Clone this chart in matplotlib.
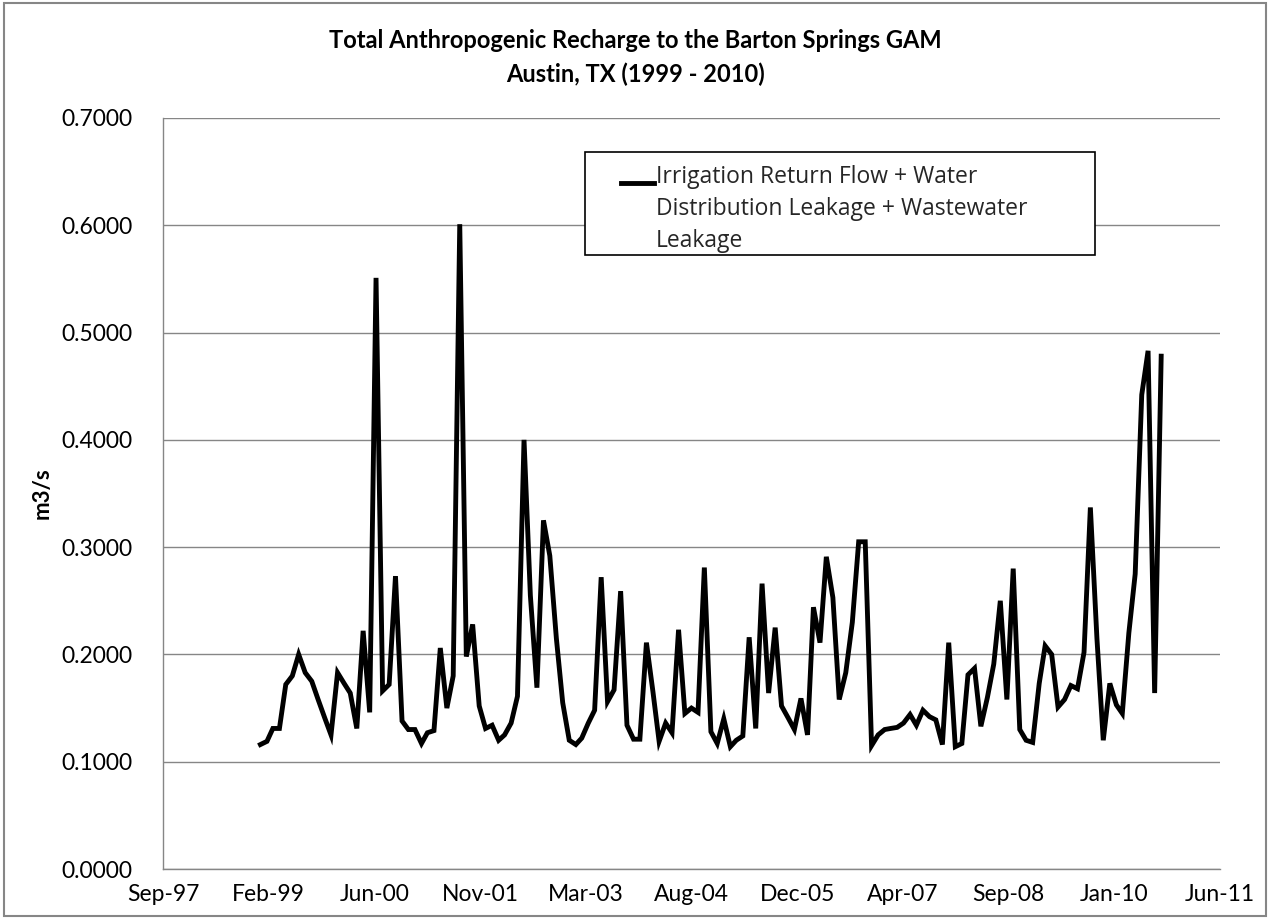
import numpy as np
import pandas as pd
import matplotlib
matplotlib.use('Agg')
import matplotlib.pyplot as plt
import matplotlib.dates as mdates
from matplotlib.patches import Rectangle

plt.rcParams['font.family'] = ['Lato', 'DejaVu Sans']

# --- データ (月次, 1999-01 〜 2010-09) ---
months = pd.date_range('1999-01-01', periods=141, freq='MS')
recharge = [
    0.116, 0.119, 0.131, 0.131, 0.172, 0.180, 0.200, 0.183, 0.175, 0.158, 0.141, 0.125,
    0.183, 0.173, 0.164, 0.131, 0.222, 0.146, 0.551, 0.166, 0.172, 0.273, 0.138, 0.130,
    0.130, 0.117, 0.127, 0.129, 0.206, 0.150, 0.180, 0.601, 0.198, 0.228, 0.152, 0.131,
    0.134, 0.120, 0.125, 0.136, 0.161, 0.400, 0.255, 0.169, 0.325, 0.292, 0.215, 0.155,
    0.120, 0.116, 0.122, 0.136, 0.148, 0.272, 0.156, 0.167, 0.259, 0.134, 0.121, 0.121,
    0.211, 0.165, 0.119, 0.136, 0.127, 0.223, 0.145, 0.150, 0.146, 0.281, 0.128, 0.117,
    0.140, 0.114, 0.120, 0.124, 0.216, 0.131, 0.266, 0.164, 0.225, 0.152, 0.141, 0.130,
    0.159, 0.125, 0.244, 0.211, 0.291, 0.253, 0.158, 0.183, 0.230, 0.305, 0.305, 0.115,
    0.125, 0.130, 0.131, 0.132, 0.136, 0.144, 0.134, 0.148, 0.142, 0.139, 0.116, 0.211,
    0.114, 0.117, 0.181, 0.187, 0.133, 0.160, 0.191, 0.250, 0.158, 0.280, 0.130, 0.120,
    0.118, 0.173, 0.208, 0.200, 0.151, 0.158, 0.171, 0.168, 0.202, 0.337, 0.215, 0.120,
    0.173, 0.153, 0.145, 0.220, 0.275, 0.442, 0.483, 0.164, 0.478,
]
series_label = "Irrigation Return Flow + Water\nDistribution Leakage + Wastewater\nLeakage"
title = "Total Anthropogenic Recharge to the Barton Springs GAM\nAustin, TX (1999 - 2010)"

# Excel風の日付軸: 1997-09-27 から 500日ごと
x_start = pd.Timestamp('1997-09-27')
x_ticks = [x_start + pd.Timedelta(days=500 * k) for k in range(11)]

# --- プロット ---
fig = plt.figure(figsize=(12.7, 9.19), dpi=100)
ax = fig.add_axes([0.1283, 0.0544, 0.8323, 0.8172])

ax.plot(months, recharge, color='black', linewidth=3.5, solid_joinstyle='miter')

ax.set_xlim(x_ticks[0], x_ticks[-1])
ax.set_xticks(x_ticks)
ax.xaxis.set_major_formatter(mdates.DateFormatter('%b-%y'))
ax.set_ylim(0, 0.7)
ax.set_yticks(np.arange(0, 0.71, 0.1))
ax.yaxis.set_major_formatter(matplotlib.ticker.FormatStrFormatter('%.4f'))
ax.tick_params(length=0, labelsize=16.5, colors='black')
ax.tick_params(axis='x', pad=11)
ax.tick_params(axis='y', pad=22)

ax.grid(axis='y', color='#868686', linewidth=1.0)
ax.set_axisbelow(True)
for s in ['top', 'right']:
    ax.spines[s].set_visible(False)
for s in ['left', 'bottom']:
    ax.spines[s].set_color('#868686')
    ax.spines[s].set_linewidth(1.0)

ax.set_ylabel('m3/s', fontsize=16, fontweight='bold', labelpad=6)

# 凡例 (Excel風: 線は1行目に揃える)
box = Rectangle((0.399, 0.818), 0.483, 0.137, transform=ax.transAxes,
                facecolor='white', edgecolor='black', linewidth=1.2, zorder=5)
ax.add_patch(box)
ax.plot([0.433, 0.465], [0.913, 0.913], transform=ax.transAxes, color='black',
        linewidth=3.5, zorder=6)
ax.text(0.466, 0.938, series_label, transform=ax.transAxes, fontsize=16.5,
        family=['Open Sans', 'DejaVu Sans'], va='top', ha='left',
        linespacing=1.45, zorder=6, color='#262626')

fig.text(0.5, 0.968, title, ha='center', va='top', fontsize=17,
         fontweight='bold', linespacing=1.5)

fig.patches.append(Rectangle((0.003, 0.003), 0.994, 0.994, transform=fig.transFigure,
                             fill=False, edgecolor='#868686', linewidth=1.5))

fig.savefig('out.png', dpi=100)
